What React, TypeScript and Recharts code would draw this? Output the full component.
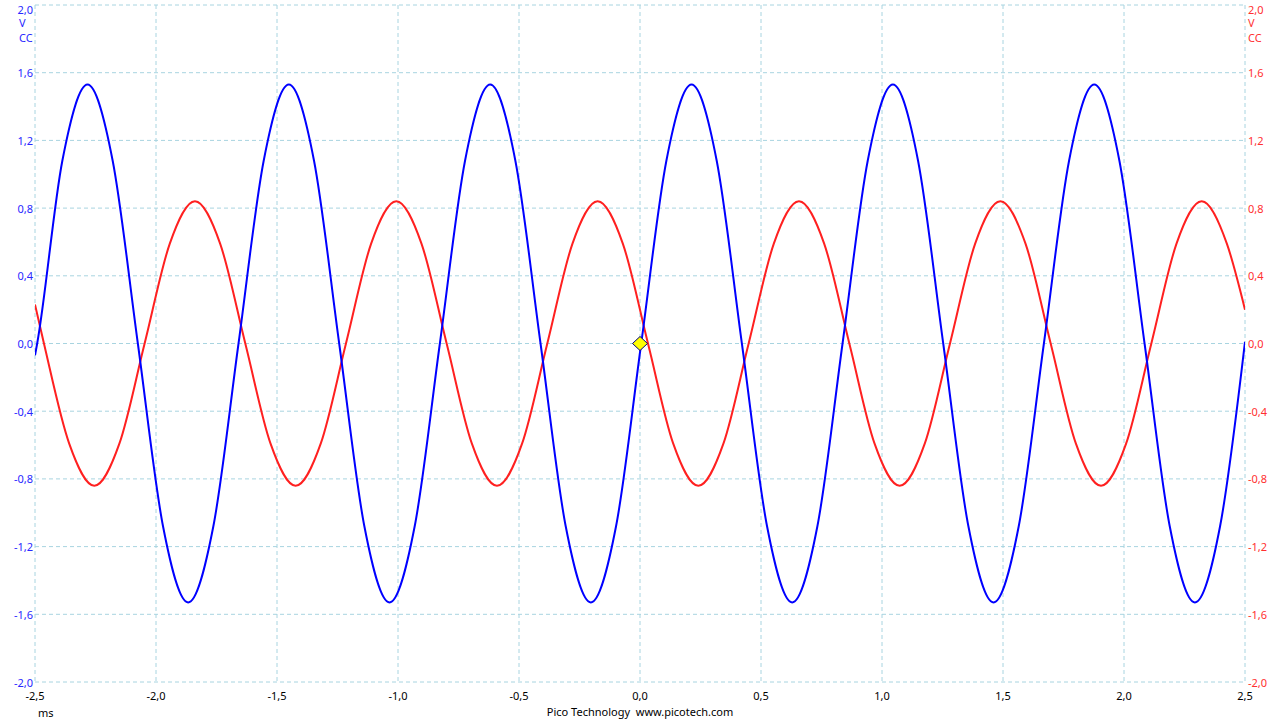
import { LineChart, Line, XAxis, YAxis, CartesianGrid, ReferenceDot } from 'recharts';

// time axis (ms) and voltage axis (V) ticks
const timeTicks = [-2.5, -2, -1.5, -1, -0.5, 0, 0.5, 1, 1.5, 2, 2.5];
const voltTicks = [-2, -1.6, -1.2, -0.8, -0.4, 0, 0.4, 0.8, 1.2, 1.6, 2];

// channel A (blue)
const blueTimes = [
  -2.5, -2.491, -2.387, -2.283, -2.179, -2.075, -1.971, -1.867, -1.763, -1.659, -1.555, -1.451, -1.347,
  -1.243, -1.139, -1.035, -0.931, -0.827, -0.723, -0.619, -0.515, -0.411, -0.307, -0.203, -0.099, 0.005,
  0.109, 0.213, 0.317, 0.421, 0.525, 0.629, 0.733, 0.837, 0.941, 1.045, 1.149, 1.253, 1.357, 1.461, 1.565,
  1.669, 1.773, 1.877, 1.981, 2.085, 2.189, 2.293, 2.397, 2.5,
];
const blueVolts = [
  -0.07, 0, 1.08, 1.53, 1.08, 0, -1.08, -1.53, -1.08, 0, 1.08, 1.53, 1.08,
  0, -1.08, -1.53, -1.08, 0, 1.08, 1.53, 1.08, 0, -1.08, -1.53, -1.08, 0,
  1.08, 1.53, 1.08, 0, -1.08, -1.53, -1.08, 0, 1.08, 1.53, 1.08, 0, -1.08, -1.53, -1.08,
  0, 1.08, 1.53, 1.08, 0, -1.08, -1.53, -1.08, 0.01,
];

// channel B (red)
const redTimes = [
  -2.5, -2.463, -2.359, -2.255, -2.151, -2.047, -1.943, -1.839, -1.735, -1.631, -1.527, -1.423, -1.319,
  -1.215, -1.111, -1.007, -0.903, -0.799, -0.695, -0.591, -0.487, -0.383, -0.279, -0.175, -0.071, 0.033,
  0.137, 0.241, 0.345, 0.449, 0.553, 0.657, 0.761, 0.865, 0.969, 1.073, 1.177, 1.281, 1.385, 1.489, 1.593,
  1.697, 1.801, 1.905, 2.009, 2.113, 2.217, 2.321, 2.425, 2.5,
];
const redVolts = [
  0.23, 0, -0.59, -0.84, -0.59, 0, 0.59, 0.84, 0.59, 0, -0.59, -0.84, -0.59,
  0, 0.59, 0.84, 0.59, 0, -0.59, -0.84, -0.59, 0, 0.59, 0.84, 0.59, 0,
  -0.59, -0.84, -0.59, 0, 0.59, 0.84, 0.59, 0, -0.59, -0.84, -0.59, 0, 0.59, 0.84, 0.59,
  0, -0.59, -0.84, -0.59, 0, 0.59, 0.84, 0.59, 0.2,
];

const blueData = blueTimes.map((t, i) => ({ t, v: blueVolts[i] }));
const redData = redTimes.map((t, i) => ({ t, v: redVolts[i] }));

const FONT = "'Noto Sans', 'DejaVu Sans', sans-serif";
const BLUE = '#0000ff';
const RED = '#ff2020';
const GRID = '#a8d4e0';
const BLUE_TXT = '#2828ff';
const RED_TXT = '#ff3030';

const fmt = (v: number) => v.toFixed(1).replace('.', ',');

// y tick label, centred on its grid line
function VoltTick(props: any) {
  const { x, y, payload, textAnchor, fill } = props;
  const v = payload.value as number;
  const dy = v >= 2 ? 0.5 : 0;
  return (
    <text x={x} y={y + dy} textAnchor={textAnchor} dominantBaseline="central" fill={fill} fontSize={11} fontFamily={FONT}>
      {fmt(v)}
    </text>
  );
}

function Diamond(props: any) {
  const { cx, cy } = props;
  if (cx == null || cy == null) return null;
  return (
    <polygon
      points={`${cx},${cy - 7} ${cx + 7.5},${cy} ${cx},${cy + 7} ${cx - 7.5},${cy}`}
      fill="#ffff00"
      stroke="#000080"
      strokeWidth={1}
    />
  );
}

export default function App() {
  return (
    <div style={{ position: 'fixed', left: 0, top: 0, width: 1280, height: 720, background: '#fff', fontFamily: FONT }}>
      <LineChart width={1280} height={720} margin={{ top: 5, right: 0, left: 0, bottom: 18 }}>
        <CartesianGrid yAxisId="left" stroke={GRID} strokeDasharray="4 3" />
        <XAxis
          dataKey="t"
          type="number"
          domain={[-2.5, 2.5]}
          ticks={timeTicks}
          tickFormatter={fmt}
          axisLine={false}
          tickLine={false}
          tickSize={0}
          tickMargin={10}
          height={20}
          allowDataOverflow
          tick={{ fontSize: 11, fill: '#000', fontFamily: FONT }}
        />
        <YAxis
          yAxisId="left"
          type="number"
          domain={[-2, 2]}
          ticks={voltTicks}
          axisLine={false}
          tickLine={false}
          tickSize={0}
          tickMargin={2}
          width={35}
          allowDataOverflow
          tick={<VoltTick fill={BLUE_TXT} />}
        />
        <YAxis
          yAxisId="right"
          orientation="right"
          type="number"
          domain={[-2, 2]}
          ticks={voltTicks}
          axisLine={false}
          tickLine={false}
          tickSize={0}
          tickMargin={3}
          width={35}
          allowDataOverflow
          tick={<VoltTick fill={RED_TXT} />}
        />
        <Line
          yAxisId="right"
          data={redData}
          dataKey="v"
          type="monotone"
          stroke={RED}
          strokeWidth={2}
          dot={false}
          isAnimationActive={false}
        />
        <Line
          yAxisId="left"
          data={blueData}
          dataKey="v"
          type="monotone"
          stroke={BLUE}
          strokeWidth={2}
          dot={false}
          isAnimationActive={false}
        />
        <ReferenceDot yAxisId="left" x={0} y={0} shape={<Diamond />} />
      </LineChart>
      <svg width={1280} height={720} style={{ position: 'absolute', left: 0, top: 0, pointerEvents: 'none' }}>
        <g fontFamily={FONT} fontSize={11}>
          <text x={19} y={27} fill={BLUE_TXT}>V</text>
          <text x={19} y={42} fill={BLUE_TXT}>CC</text>
          <text x={1248} y={27} fill={RED_TXT}>V</text>
          <text x={1248} y={42} fill={RED_TXT}>CC</text>
          <text x={38} y={717} fill="#000">ms</text>
          <text x={640} y={716} fill="#000" textAnchor="middle">{'Pico Technology\u00a0\u00a0www.picotech.com'}</text>
        </g>
      </svg>
    </div>
  );
}
